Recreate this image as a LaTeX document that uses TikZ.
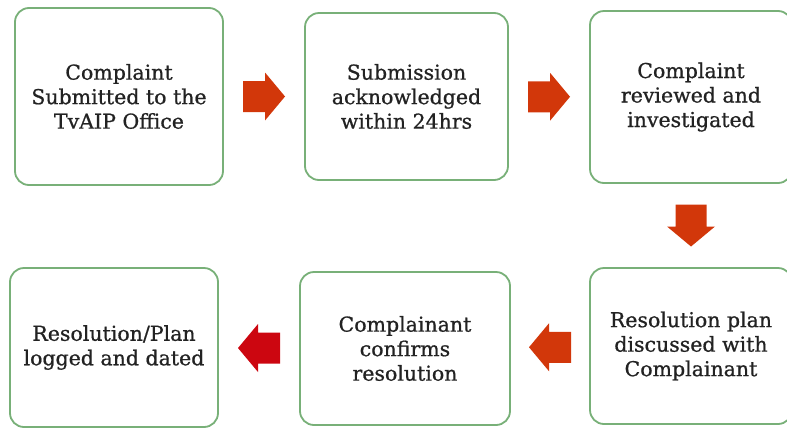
\documentclass[tikz,border=0pt]{standalone}
\usepackage{fontspec}
\setmainfont[FakeBold=0.8]{DejaVu Serif}
\usepackage{xcolor}
\usepackage{tikz}
\usetikzlibrary{calc}

\definecolor{boxgreen}{RGB}{120,176,120}
\definecolor{arrowred}{RGB}{210,55,10}
\definecolor{arrowdark}{RGB}{204,6,16}
\definecolor{textgray}{RGB}{34,34,34}

\tikzset{
  blockarrow/.pic={
    \fill (-21,-15.5) -- (1,-15.5) -- (1,-24) -- (21,0) -- (1,24) -- (1,15.5) -- (-21,15.5) -- cycle;
  }
}

\begin{document}
\begin{tikzpicture}[x=1pt,y=-1pt,
    stepbox/.style={draw=boxgreen, line width=1.8pt, rounded corners=14pt, fill=white,
      align=center, text=textgray, font=\fontsize{20.5}{24.5}\selectfont}]
      \useasboundingbox (0,0) rectangle (787,429);

      \node[stepbox, minimum width=208, minimum height=177] (submit) at (119,96.5)
        {Complaint\\Submitted to the\\TvAIP Office};
      \node[stepbox, minimum width=203, minimum height=167] (ack) at (406.5,96.5)
        {Submission\\acknowledged\\within 24hrs};
      \node[stepbox, minimum width=202, minimum height=172] (review) at (691,97)
        {Complaint\\reviewed and\\investigated};
      \node[stepbox, minimum width=202, minimum height=156] (plan) at (691,346)
        {Resolution plan\\discussed with\\Complainant};
      \node[stepbox, minimum width=210, minimum height=153] (confirm) at (405,348.5)
        {Complainant\\confirms\\resolution};
      \node[stepbox, minimum width=208, minimum height=159] (logged) at (114,347.5)
        {Resolution/Plan\\logged and dated};

      \pic[fill=arrowred] at ($(submit.east)!0.5!(ack.west)$) {blockarrow};
      \pic[fill=arrowred] at ($(ack.east)!0.5!(review.west)$) {blockarrow};
      \pic[fill=arrowred, rotate=-90] at ($(review.south)!0.5!(plan.north)$) {blockarrow};
      \pic[fill=arrowred, rotate=180] at ($(plan.west)!0.5!(confirm.east)$) {blockarrow};
      \pic[fill=arrowdark, rotate=180] at ($(confirm.west)!0.5!(logged.east)$) {blockarrow};
    \end{tikzpicture}
\end{document}
